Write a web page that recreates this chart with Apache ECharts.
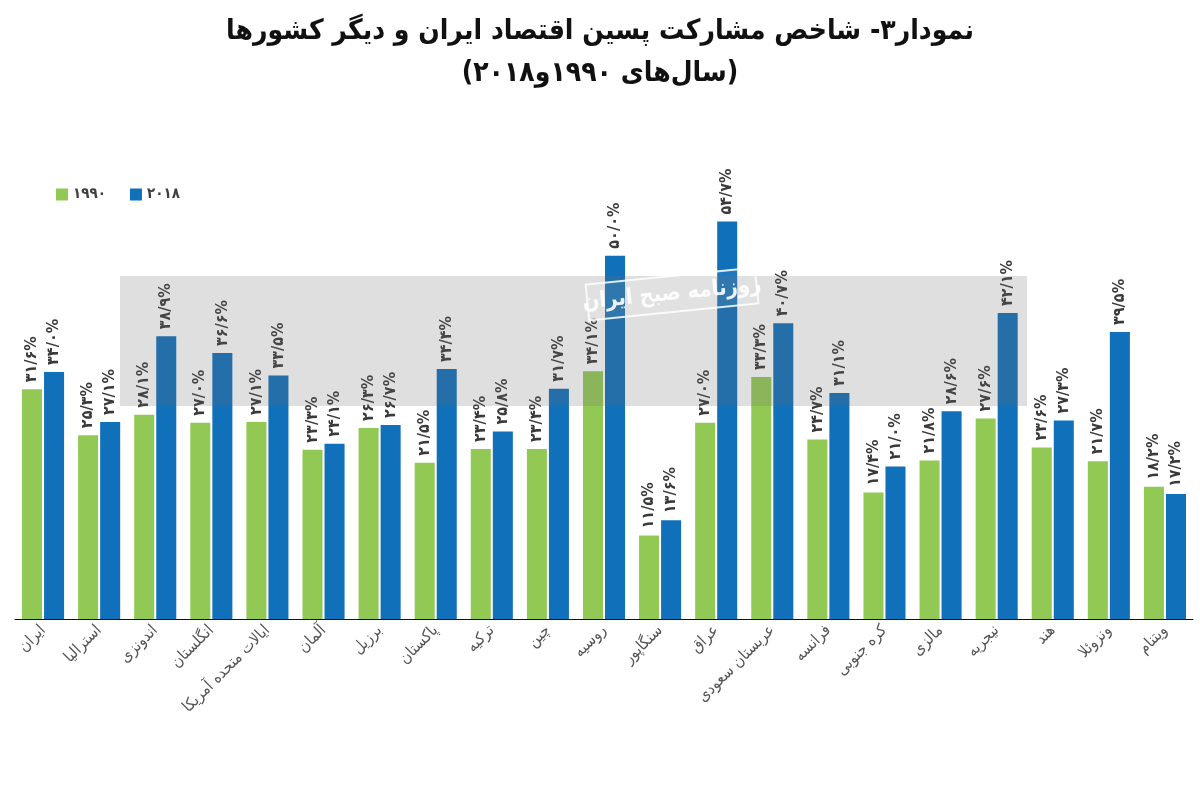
<!DOCTYPE html>
<html>
<head>
<meta charset="utf-8">
<script src="https://cdn.jsdelivr.net/npm/echarts@6/dist/echarts.min.js"></script>
<style>
  html, body { margin: 0; padding: 0; background: #fff; }
  #main { width: 1200px; height: 792px; }
</style>
</head>
<body>
<div id="main" dir="rtl"></div>
<script>
// کشورها
var countries = ['ایران', 'استرالیا', 'اندونزی', 'انگلستان', 'ایالات متحده آمریکا', 'آلمان', 'برزیل',
  'پاکستان', 'ترکیه', 'چین', 'روسیه', 'سنگاپور', 'عراق', 'عربستان سعودی', 'فرانسه', 'کره جنوبی',
  'مالزی', 'نیجریه', 'هند', 'ونزوئلا', 'ویتنام'];
// مقادیر ۱۹۹۰
var values1990 = [31.6, 25.3, 28.1, 27.0, 27.1, 23.3, 26.3, 21.5, 23.4, 23.4, 34.1, 11.5, 27.0, 33.3,
  24.7, 17.4, 21.8, 27.6, 23.6, 21.7, 18.2];
// مقادیر ۲۰۱۸
var values2018 = [34.0, 27.1, 38.9, 36.6, 33.5, 24.1, 26.7, 34.4, 25.8, 31.7, 50.0, 13.6, 54.7, 40.7,
  31.1, 21.0, 28.6, 42.1, 27.3, 39.5, 17.2];
var seriesNames = ['۱۹۹۰', '۲۰۱۸'];

function fa(s) {
  return String(s).replace(/\d/g, function (d) { return '۰۱۲۳۴۵۶۷۸۹'[d]; });
}

(function () {
  var myChart = echarts.init(document.getElementById('main'));
  var font = 'DejaVu Sans Condensed, DejaVu Sans, sans-serif';
  var valueLabel = {
    show: true,
    position: 'top',
    rotate: 90,
    align: 'left',
    verticalAlign: 'middle',
    distance: 7,
    color: '#3a3a3a',
    fontFamily: font,
    fontWeight: 'bold',
    fontSize: 16,
    formatter: function (p) {
      return fa(p.value.toFixed(1)).replace('.', '/') + '%';
    }
  };
  var option = {
    animation: false,
    textStyle: { fontFamily: font },
    title: {
      text: 'نمودار۳- شاخص مشارکت پسین اقتصاد ایران و دیگر کشورها\n(سال‌های ۱۹۹۰و۲۰۱۸)',
      left: 'center',
      top: 6,
      textStyle: {
        fontFamily: font,
        fontSize: 28,
        fontWeight: 'bold',
        color: '#111',
        lineHeight: 42
      }
    },
    legend: {
      data: seriesNames,
      left: 51,
      top: 182,
      itemWidth: 12,
      itemHeight: 12,
      itemGap: 24,
      icon: 'rect',
      textStyle: { color: '#404040', fontSize: 15, fontWeight: 'bold', fontFamily: font }
    },
    grid: {
      left: 15,
      right: 7,
      top: 183,
      bottom: 173,
      containLabel: false
    },
    xAxis: {
      type: 'category',
      data: countries,
      axisTick: { show: false },
      axisLine: { lineStyle: { color: '#111', width: 1 } },
      axisLabel: {
        interval: 0,
        rotate: 45,
        margin: 9,
        color: '#555',
        fontSize: 16,
        fontFamily: font
      }
    },
    yAxis: {
      type: 'value',
      min: 0,
      max: 60,
      show: false,
      splitLine: { show: false }
    },
    series: [
      {
        name: seriesNames[0],
        type: 'bar',
        data: values1990,
        barGap: '10%',
        barCategoryGap: '25%',
        itemStyle: { color: '#92c955' },
        label: valueLabel
      },
      {
        name: seriesNames[1],
        type: 'bar',
        data: values2018,
        itemStyle: { color: '#1070ba' },
        label: valueLabel
      }
    ],
    graphic: [
      {
        type: 'rect',
        x: 120,
        y: 276,
        z: 100,
        silent: true,
        shape: { width: 907, height: 130 },
        style: { fill: 'rgba(110,110,110,0.22)' }
      },
      {
        type: 'rect',
        x: 672,
        y: 294,
        rotation: 0.1,
        z: 101,
        silent: true,
        shape: { x: -85, y: -18, width: 170, height: 36 },
        style: { fill: 'rgba(255,255,255,0.06)', stroke: 'rgba(255,255,255,0.85)', lineWidth: 2 }
      },
      {
        type: 'text',
        x: 672,
        y: 294,
        rotation: 0.1,
        z: 102,
        silent: true,
        style: {
          text: 'روزنامه صبح ایران',
          align: 'center',
          verticalAlign: 'middle',
          fill: 'rgba(255,255,255,0.9)',
          fontSize: 22,
          fontWeight: 'bold',
          fontFamily: font
        }
      }
    ]
  };
  myChart.setOption(option);
  window.addEventListener('resize', function () {
    myChart.resize();
  });
})();
</script>
</body>
</html>
